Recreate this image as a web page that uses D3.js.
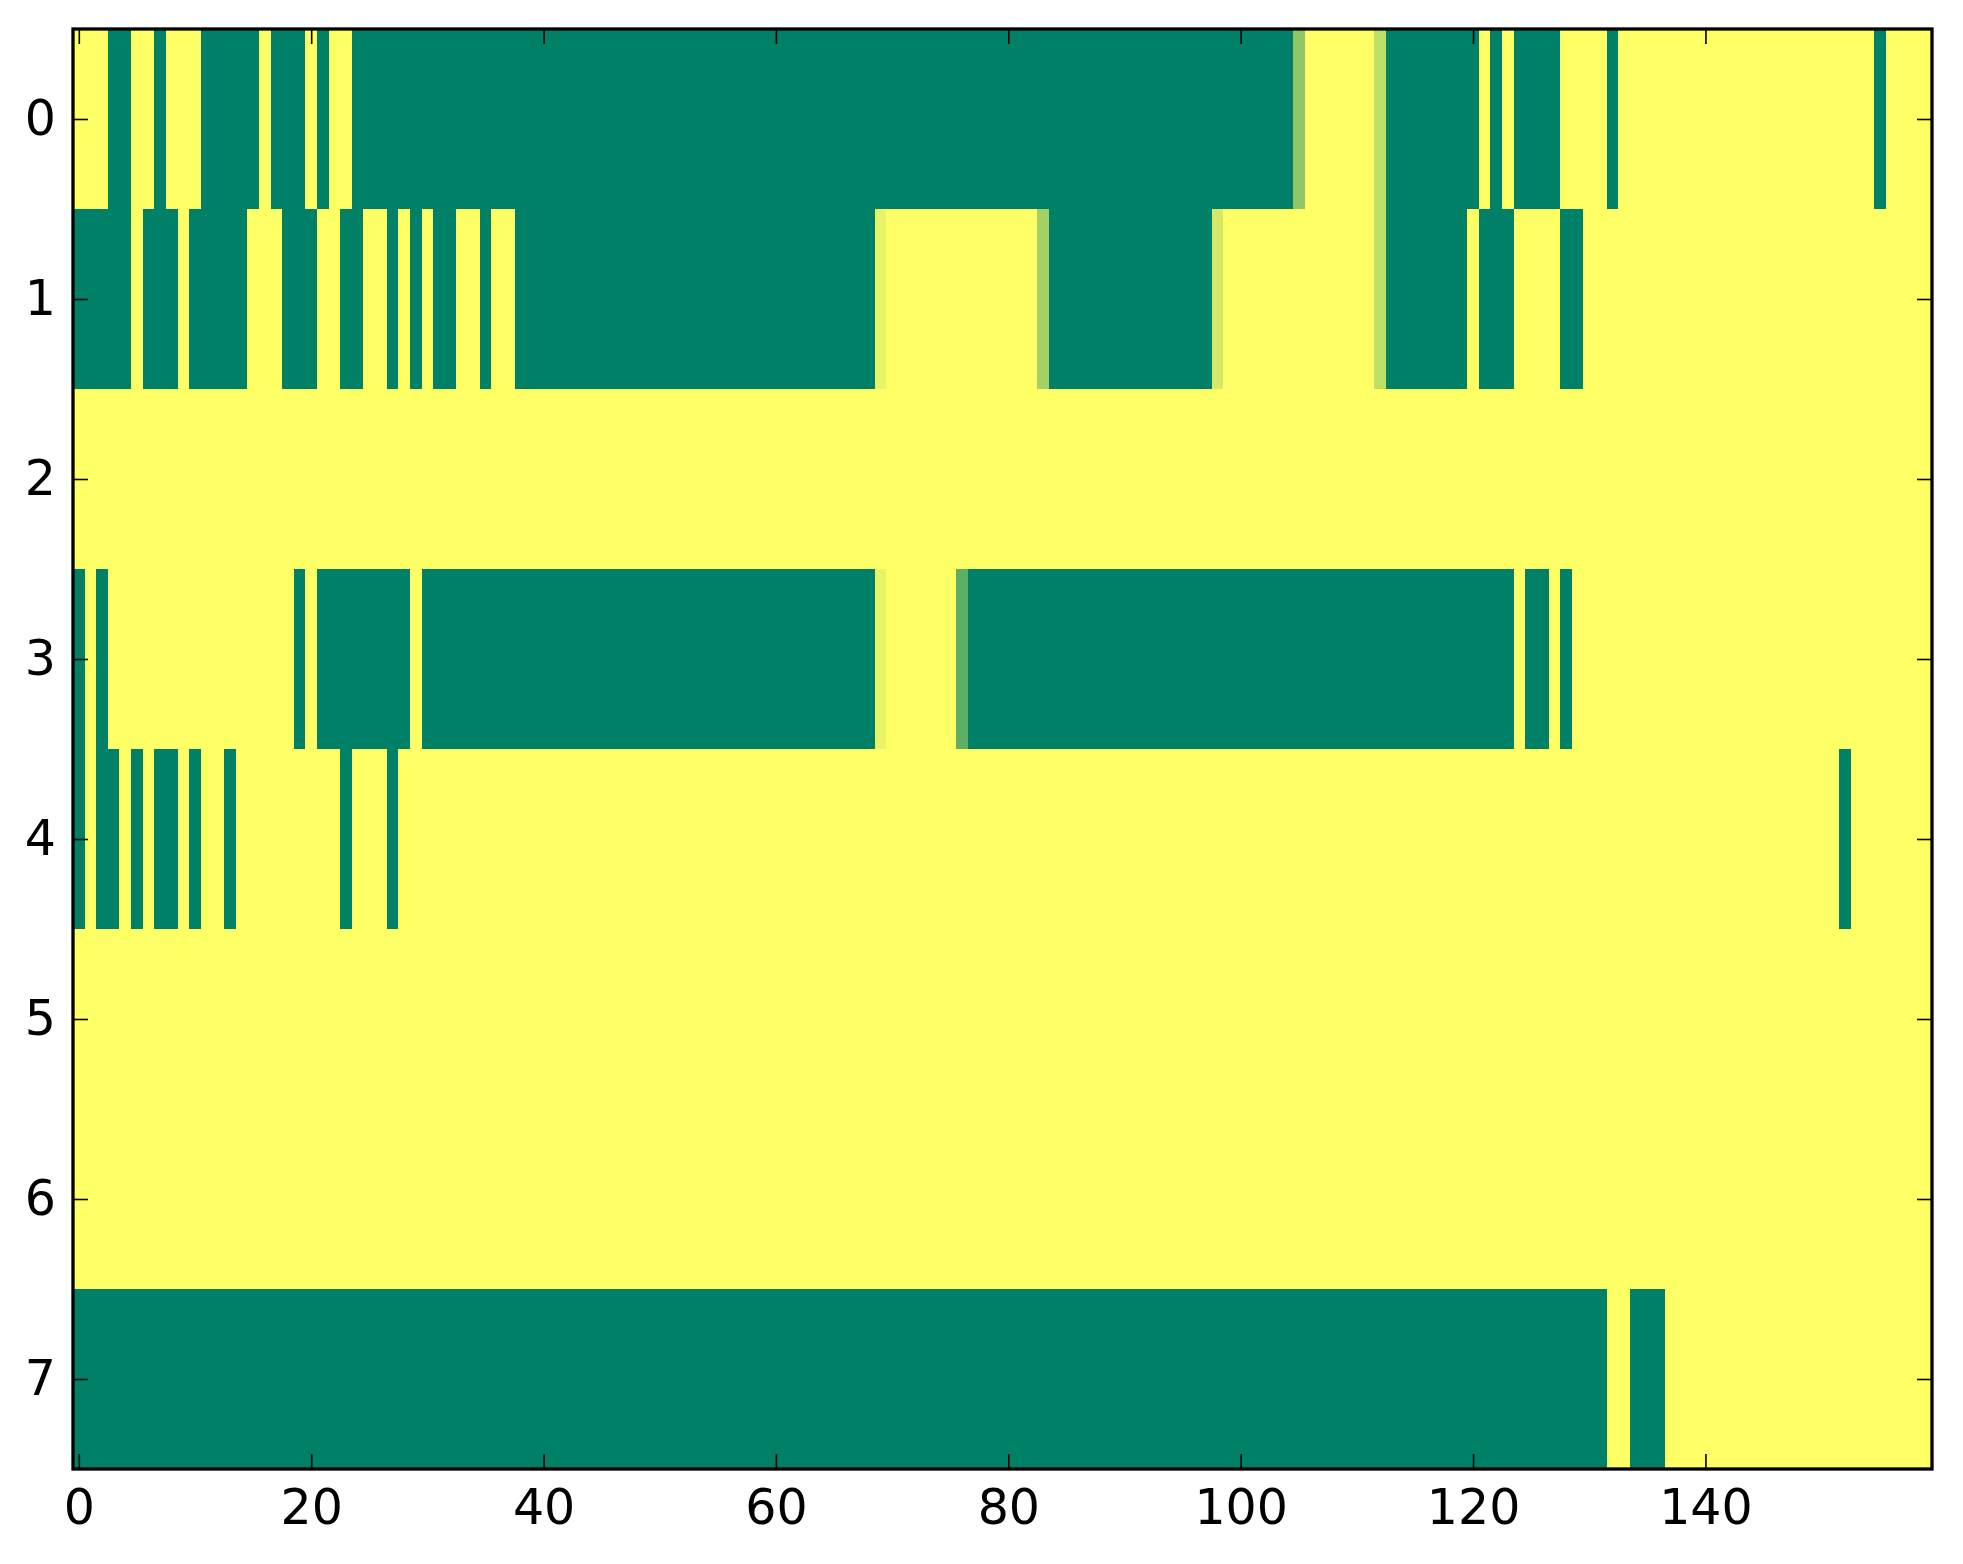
<!DOCTYPE html>
<html>
<head>
<meta charset="utf-8">
<script src="https://cdn.jsdelivr.net/npm/d3@7"></script>
<style>
  body { margin: 0; background: #fff; }
  text { font-family: "DejaVu Sans", sans-serif; }
</style>
</head>
<body>
<script>
// one value per column (0..159), 0 = green end of the map, 1 = yellow end
let row0 = [
    1,1,1,0,0,1,1,0,1,1,1,0,0,0,0,0,1,0,0,0,
    1,0,1,1,0,0,0,0,0,0,0,0,0,0,0,0,0,0,0,0,
    0,0,0,0,0,0,0,0,0,0,0,0,0,0,0,0,0,0,0,0,
    0,0,0,0,0,0,0,0,0,0,0,0,0,0,0,0,0,0,0,0,
    0,0,0,0,0,0,0,0,0,0,0,0,0,0,0,0,0,0,0,0,
    0,0,0,0,0,0.56,1,1,1,1,1,1,0.745,0,0,0,0,0,0,0,
    0,1,0,1,0,0,0,0,1,1,1,1,0,1,1,1,1,1,1,1,
    1,1,1,1,1,1,1,1,1,1,1,1,1,1,1,0,1,1,1,1
];
let row1 = [
    0,0,0,0,0,1,0,0,0,1,0,0,0,0,0,1,1,1,0,0,
    0,1,1,0,0,1,1,0,1,0,1,0,0,1,1,0,1,1,0,0,
    0,0,0,0,0,0,0,0,0,0,0,0,0,0,0,0,0,0,0,0,
    0,0,0,0,0,0,0,0,0,0.91,1,1,1,1,1,1,1,1,1,1,
    1,1,1,0.64,0,0,0,0,0,0,0,0,0,0,0,0,0,0,0.83,1,
    1,1,1,1,1,1,1,1,1,1,1,1,0.745,0,0,0,0,0,0,0,
    1,0,0,0,1,1,1,1,0,0,1,1,1,1,1,1,1,1,1,1,
    1,1,1,1,1,1,1,1,1,1,1,1,1,1,1,1,1,1,1,1
];
let row2 = [
    1,1,1,1,1,1,1,1,1,1,1,1,1,1,1,1,1,1,1,1,
    1,1,1,1,1,1,1,1,1,1,1,1,1,1,1,1,1,1,1,1,
    1,1,1,1,1,1,1,1,1,1,1,1,1,1,1,1,1,1,1,1,
    1,1,1,1,1,1,1,1,1,1,1,1,1,1,1,1,1,1,1,1,
    1,1,1,1,1,1,1,1,1,1,1,1,1,1,1,1,1,1,1,1,
    1,1,1,1,1,1,1,1,1,1,1,1,1,1,1,1,1,1,1,1,
    1,1,1,1,1,1,1,1,1,1,1,1,1,1,1,1,1,1,1,1,
    1,1,1,1,1,1,1,1,1,1,1,1,1,1,1,1,1,1,1,1
];
let row3 = [
    0,1,0,1,1,1,1,1,1,1,1,1,1,1,1,1,1,1,1,0,
    1,0,0,0,0,0,0,0,0,1,0,0,0,0,0,0,0,0,0,0,
    0,0,0,0,0,0,0,0,0,0,0,0,0,0,0,0,0,0,0,0,
    0,0,0,0,0,0,0,0,0,0.91,1,1,1,1,1,1,0.37,0,0,0,
    0,0,0,0,0,0,0,0,0,0,0,0,0,0,0,0,0,0,0,0,
    0,0,0,0,0,0,0,0,0,0,0,0,0,0,0,0,0,0,0,0,
    0,0,0,0,1,0,0,1,0,1,1,1,1,1,1,1,1,1,1,1,
    1,1,1,1,1,1,1,1,1,1,1,1,1,1,1,1,1,1,1,1
];
let row4 = [
    0,1,0,0,1,0,1,0,0,1,0,1,1,0,1,1,1,1,1,1,
    1,1,1,0,1,1,1,0,1,1,1,1,1,1,1,1,1,1,1,1,
    1,1,1,1,1,1,1,1,1,1,1,1,1,1,1,1,1,1,1,1,
    1,1,1,1,1,1,1,1,1,1,1,1,1,1,1,1,1,1,1,1,
    1,1,1,1,1,1,1,1,1,1,1,1,1,1,1,1,1,1,1,1,
    1,1,1,1,1,1,1,1,1,1,1,1,1,1,1,1,1,1,1,1,
    1,1,1,1,1,1,1,1,1,1,1,1,1,1,1,1,1,1,1,1,
    1,1,1,1,1,1,1,1,1,1,1,1,0,1,1,1,1,1,1,1
];
let row5 = [
    1,1,1,1,1,1,1,1,1,1,1,1,1,1,1,1,1,1,1,1,
    1,1,1,1,1,1,1,1,1,1,1,1,1,1,1,1,1,1,1,1,
    1,1,1,1,1,1,1,1,1,1,1,1,1,1,1,1,1,1,1,1,
    1,1,1,1,1,1,1,1,1,1,1,1,1,1,1,1,1,1,1,1,
    1,1,1,1,1,1,1,1,1,1,1,1,1,1,1,1,1,1,1,1,
    1,1,1,1,1,1,1,1,1,1,1,1,1,1,1,1,1,1,1,1,
    1,1,1,1,1,1,1,1,1,1,1,1,1,1,1,1,1,1,1,1,
    1,1,1,1,1,1,1,1,1,1,1,1,1,1,1,1,1,1,1,1
];
let row6 = [
    1,1,1,1,1,1,1,1,1,1,1,1,1,1,1,1,1,1,1,1,
    1,1,1,1,1,1,1,1,1,1,1,1,1,1,1,1,1,1,1,1,
    1,1,1,1,1,1,1,1,1,1,1,1,1,1,1,1,1,1,1,1,
    1,1,1,1,1,1,1,1,1,1,1,1,1,1,1,1,1,1,1,1,
    1,1,1,1,1,1,1,1,1,1,1,1,1,1,1,1,1,1,1,1,
    1,1,1,1,1,1,1,1,1,1,1,1,1,1,1,1,1,1,1,1,
    1,1,1,1,1,1,1,1,1,1,1,1,1,1,1,1,1,1,1,1,
    1,1,1,1,1,1,1,1,1,1,1,1,1,1,1,1,1,1,1,1
];
let row7 = [
    0,0,0,0,0,0,0,0,0,0,0,0,0,0,0,0,0,0,0,0,
    0,0,0,0,0,0,0,0,0,0,0,0,0,0,0,0,0,0,0,0,
    0,0,0,0,0,0,0,0,0,0,0,0,0,0,0,0,0,0,0,0,
    0,0,0,0,0,0,0,0,0,0,0,0,0,0,0,0,0,0,0,0,
    0,0,0,0,0,0,0,0,0,0,0,0,0,0,0,0,0,0,0,0,
    0,0,0,0,0,0,0,0,0,0,0,0,0,0,0,0,0,0,0,0,
    0,0,0,0,0,0,0,0,0,0,0,0,1,1,0,0,0,1,1,1,
    1,1,1,1,1,1,1,1,1,1,1,1,1,1,1,1,1,1,1,1
];

let rows = [row0, row1, row2, row3, row4, row5, row6, row7];
let xTicks = [0, 20, 40, 60, 80, 100, 120, 140];
let yTicks = [0, 1, 2, 3, 4, 5, 6, 7];

function main() {

    let svg = d3.select("body").append("svg")
        .attr("width", 1963)
        .attr("height", 1564);

    let left = 73, right = 1932, top = 29, bottom = 1469;

    let xScale = d3.scaleLinear().domain([-0.5, 159.5]).range([left, right]);
    let yScale = d3.scaleLinear().domain([-0.5, 7.5]).range([top, bottom]);

    // matplotlib "summer": straight line from (0, .5, .4) to (1, 1, .4)
    let colorScale = d3.scaleLinear().domain([0, 1])
        .range(["#008066", "#ffff66"]);

    let cells = [];
    rows.forEach(function(r, i) {
        r.forEach(function(v, j) { cells.push({row: i, col: j, value: v}); });
    });

    svg.append("g")
        .selectAll("rect")
        .data(cells)
        .enter()
        .append("rect")
        .attr("x", d => xScale(d.col - 0.5))
        .attr("y", d => yScale(d.row - 0.5))
        .attr("width", d => xScale(d.col + 0.5) - xScale(d.col - 0.5) + 0.5)
        .attr("height", d => yScale(d.row + 0.5) - yScale(d.row - 0.5) + 0.5)
        .attr("fill", d => colorScale(d.value))
        .attr("shape-rendering", "crispEdges");

    let tickLen = 15;

    let xAxis = d3.axisBottom(xScale).tickValues(xTicks)
        .tickSizeInner(-tickLen).tickSizeOuter(0).tickPadding(20);
    let yAxis = d3.axisLeft(yScale).tickValues(yTicks)
        .tickSizeInner(-tickLen).tickSizeOuter(0).tickPadding(17);
    let xTop = d3.axisTop(xScale).tickValues(xTicks)
        .tickSizeInner(-tickLen).tickSizeOuter(0).tickFormat("");
    let yRight = d3.axisRight(yScale).tickValues(yTicks)
        .tickSizeInner(-tickLen).tickSizeOuter(0).tickFormat("");

    let axes = [
        [xAxis, `translate(0,${bottom})`],
        [yAxis, `translate(${left},0)`],
        [xTop, `translate(0,${top})`],
        [yRight, `translate(${right},0)`]
    ];
    axes.forEach(function(a) {
        let g = svg.append("g")
            .attr("transform", a[1])
            .call(a[0]);
        g.select(".domain").remove();
        g.selectAll(".tick line")
            .attr("stroke", "black")
            .attr("stroke-width", 1.6);
        g.selectAll(".tick text")
            .attr("fill", "black")
            .style("font-family", "DejaVu Sans")
            .style("font-size", "49px");
    });

    // frame
    svg.append("rect")
        .attr("x", left)
        .attr("y", top)
        .attr("width", right - left)
        .attr("height", bottom - top)
        .attr("fill", "none")
        .attr("stroke", "black")
        .attr("stroke-width", 3.3);
}

main()
</script>
</body>
</html>
